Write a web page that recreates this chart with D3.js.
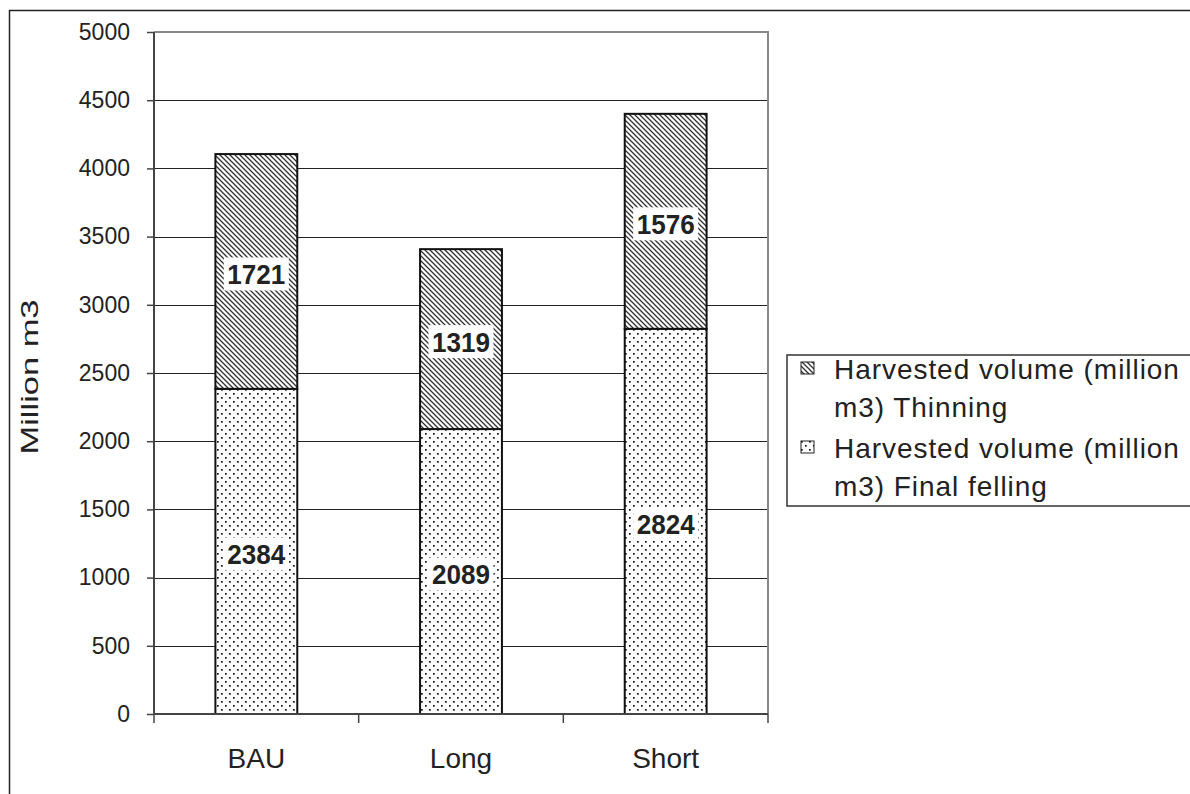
<!DOCTYPE html>
<html>
<head>
<meta charset="utf-8">
<script src="https://cdn.jsdelivr.net/npm/d3@7"></script>
<style>
  html, body { margin: 0; padding: 0; background: #fff; }
  svg { display: block; font-family: "Liberation Sans", Arial, sans-serif; }
</style>
</head>
<body>
<svg id="chart" width="1190" height="794"></svg>
<script>
const categories = ["BAU", "Long", "Short"];
const finalFelling = [2384, 2089, 2824];
const thinning = [1721, 1319, 1576];
const yTicks = [0, 500, 1000, 1500, 2000, 2500, 3000, 3500, 4000, 4500, 5000];
const yLabel = "Million m3";
const legendLabels = [
  ["Harvested volume (million", "m3) Thinning"],
  ["Harvested volume (million", "m3) Final felling"]
];

const svg = d3.select("#chart");
const W = 1190, H = 794;
const plot = { left: 154, right: 768, top: 32, bottom: 714 };
const FONT = "Liberation Sans, Arial, sans-serif";

// defs: patterns
const defs = svg.append("defs");
const dots = defs.append("pattern").attr("id", "dots")
  .attr("patternUnits", "userSpaceOnUse").attr("width", 8).attr("height", 8);
dots.append("rect").attr("width", 8).attr("height", 8).attr("fill", "#fff");
dots.append("rect").attr("x", 1).attr("y", 1).attr("width", 1.7).attr("height", 1.7).attr("fill", "#111");
dots.append("rect").attr("x", 5).attr("y", 5).attr("width", 1.7).attr("height", 1.7).attr("fill", "#111");

const hatch = defs.append("pattern").attr("id", "hatch")
  .attr("patternUnits", "userSpaceOnUse").attr("width", 5).attr("height", 5);
hatch.append("rect").attr("width", 5).attr("height", 5).attr("fill", "#fff");
hatch.append("path").attr("d", "M-1,-1 L6,6 M-1,4 L1,6 M4,-1 L6,1")
  .attr("stroke", "#333").attr("stroke-width", 1.3);

// outer frame
svg.append("path").attr("d", `M9.5,${H} L9.5,10.5 L${W},10.5`)
  .attr("fill", "none").attr("stroke", "#222").attr("stroke-width", 1.5);

const x = d3.scaleBand().domain(categories).range([plot.left, plot.right]).paddingInner(0.6).paddingOuter(0.3);
const y = d3.scaleLinear().domain([0, 5000]).range([plot.bottom, plot.top]);

// gridlines
svg.append("g").selectAll("line").data(yTicks.filter(d => d > 0)).join("line")
  .attr("x1", plot.left).attr("x2", plot.right)
  .attr("y1", d => Math.round(y(d)) + 0.5).attr("y2", d => Math.round(y(d)) + 0.5)
  .attr("stroke", "#222").attr("stroke-width", 1);

// plot area border (top and right)
svg.append("line").attr("x1", plot.right).attr("x2", plot.right)
  .attr("y1", plot.top).attr("y2", plot.bottom)
  .attr("stroke", "#888").attr("stroke-width", 2);
svg.append("line").attr("x1", plot.left).attr("x2", plot.right + 1)
  .attr("y1", plot.top).attr("y2", plot.top)
  .attr("stroke", "#888").attr("stroke-width", 2);

// bars
const stackData = categories.map((c, i) => ({ c, f: finalFelling[i], t: thinning[i] }));
const bars = svg.append("g");
bars.selectAll("rect.ff").data(stackData).join("rect").attr("class", "ff")
  .attr("x", d => x(d.c)).attr("width", x.bandwidth())
  .attr("y", d => y(d.f)).attr("height", d => y(0) - y(d.f))
  .attr("fill", "url(#dots)").attr("stroke", "#111").attr("stroke-width", 2);
bars.selectAll("rect.th").data(stackData).join("rect").attr("class", "th")
  .attr("x", d => x(d.c)).attr("width", x.bandwidth())
  .attr("y", d => y(d.f + d.t)).attr("height", d => y(d.f) - y(d.f + d.t))
  .attr("fill", "url(#hatch)").attr("stroke", "#111").attr("stroke-width", 2);

// value labels
function addLabel(cx, cy, text) {
  const g = svg.append("g");
  g.append("rect").attr("x", cx - 32.5).attr("y", cy - 16)
    .attr("width", 65).attr("height", 33).attr("fill", "#fff");
  g.append("text").attr("x", cx).attr("y", cy + 10.5)
    .attr("text-anchor", "middle")
    .attr("font-size", 28).attr("font-weight", "bold").attr("fill", "#222")
    .attr("textLength", 58).attr("lengthAdjust", "spacingAndGlyphs").text(text);
}
stackData.forEach(d => {
  const cx = x(d.c) + x.bandwidth() / 2;
  addLabel(cx, y(d.f / 2) + 2, d.f);
  addLabel(cx, y(d.f + d.t / 2) + 2, d.t);
});

// y axis
const yAxis = svg.append("g").attr("transform", `translate(${plot.left},0)`)
  .call(d3.axisLeft(y).tickValues(yTicks).tickSize(7).tickPadding(17).tickFormat(d3.format("d")));
yAxis.select(".domain").attr("stroke", "#444").attr("stroke-width", 2).attr("d", `M0,${plot.top}V${plot.bottom}`);
yAxis.selectAll(".tick line").attr("stroke", "#444").attr("stroke-width", 1.5);
yAxis.selectAll(".tick text").attr("font-size", 23).attr("fill", "#222").attr("font-family", FONT);

// x axis
const xAxis = svg.append("g").attr("transform", `translate(0,${plot.bottom})`)
  .call(d3.axisBottom(x).tickSize(0).tickPadding(0));
xAxis.select(".domain").attr("stroke", "#444").attr("stroke-width", 2).attr("d", `M${plot.left},0H${plot.right}`);
xAxis.selectAll(".tick text").attr("font-size", 28).attr("fill", "#222").attr("font-family", FONT)
  .attr("dy", null).attr("y", 54);
const step = (plot.right - plot.left) / categories.length;
svg.append("g").selectAll("line").data(d3.range(categories.length + 1)).join("line")
  .attr("x1", i => plot.left + i * step).attr("x2", i => plot.left + i * step)
  .attr("y1", plot.bottom).attr("y2", plot.bottom + 9)
  .attr("stroke", "#444").attr("stroke-width", 1.5);

// y label
svg.append("text").attr("transform", `translate(38,377) rotate(-90)`)
  .attr("text-anchor", "middle").attr("font-size", 24).attr("fill", "#222")
  .attr("textLength", 155).attr("lengthAdjust", "spacingAndGlyphs").text(yLabel);

// legend
const lg = svg.append("g");
lg.append("rect").attr("x", 787).attr("y", 355).attr("width", 420).attr("height", 151)
  .attr("fill", "#fff").attr("stroke", "#333").attr("stroke-width", 1.5);
const fills = ["url(#hatch)", "url(#dots)"];
legendLabels.forEach((lines, i) => {
  const top = 369 + i * 79;
  lg.append("rect").attr("x", 801).attr("y", top - 7).attr("width", 13).attr("height", 12)
    .attr("fill", fills[i]).attr("stroke", "#222").attr("stroke-width", 1);
  lines.forEach((ln, j) => {
    lg.append("text").attr("x", 834).attr("y", top + j * 38 + 10)
      .attr("font-size", 28).attr("letter-spacing", 0.95)
      .attr("fill", "#222").text(ln);
  });
});
</script>
</body>
</html>
